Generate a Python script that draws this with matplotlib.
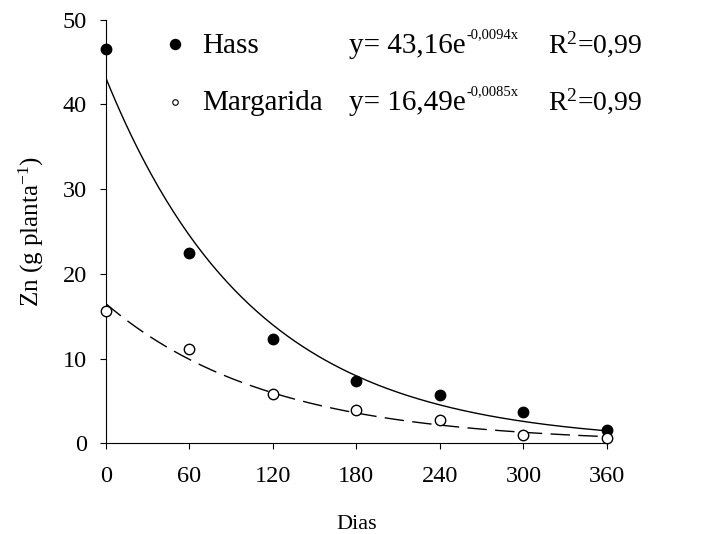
import numpy as np
import matplotlib
matplotlib.use("Agg")
import matplotlib.pyplot as plt

plt.rcParams['font.family'] = ['Liberation Serif', 'DejaVu Serif']
plt.rcParams['mathtext.fontset'] = 'custom'
plt.rcParams['mathtext.rm'] = 'Liberation Serif'
plt.rcParams['mathtext.it'] = 'Liberation Serif'

dias = [0, 60, 120, 180, 240, 300, 360]
hass = [46.6, 22.5, 12.3, 7.4, 5.7, 3.7, 1.6]
margarida = [15.6, 11.1, 5.8, 3.9, 2.7, 1.0, 0.6]

# ajustes exponenciais y = a*exp(b*x)
hass_a, hass_b = 43.16, -0.0094
marg_a, marg_b = 16.49, -0.0085

fig = plt.figure(figsize=(7.05, 5.34), dpi=100)
ax = fig.add_axes([0.150, 0.170, 0.711, 0.793])

xs = np.linspace(0, 360, 200)
ax.plot(xs, hass_a * np.exp(hass_b * xs), color='black', lw=1.0)
ax.plot(xs, marg_a * np.exp(marg_b * xs), color='black', lw=1.0, dashes=(14, 6))

ax.plot(dias, hass, 'o', color='black', ms=7.5, clip_on=False, zorder=3)
ax.plot(dias, margarida, 'o', mfc='white', mec='black', mew=1.0, ms=7.5,
        clip_on=False, zorder=3)

ax.set_xlim(0, 360)
ax.set_ylim(0, 50)
ax.set_xticks(dias)
ax.set_yticks([0, 10, 20, 30, 40, 50])
ax.spines['top'].set_visible(False)
ax.spines['right'].set_visible(False)
ax.tick_params(direction='out', length=4.5, labelsize=17.5)
ax.tick_params(axis='x', pad=12)
ax.tick_params(axis='y', pad=9)
ax.set_xlabel('Dias', fontsize=16, labelpad=20)
ax.set_ylabel('Zn (g planta$^{\\mathrm{-1}}$)', fontsize=18, labelpad=12)

# legenda manual
fs = 21
ax.plot([49.6], [47.1], 'o', color='black', ms=7.2)
ax.plot([49.6], [40.3], 'o', mfc='white', mec='black', mew=0.8, ms=4)
ax.text(69.5, 46.1, 'Hass', fontsize=fs, va='baseline')
ax.text(69.5, 39.4, 'Margarida', fontsize=fs, va='baseline')

t1 = ax.text(175, 46.1, 'y= 43,16e', fontsize=fs, va='baseline')
t2 = ax.text(175, 39.4, 'y= 16,49e', fontsize=fs, va='baseline')
ax.annotate('-0,0094x', xy=(1.0, 47.8), xycoords=(t1, 'data'),
            fontsize=10.5, va='baseline', ha='left')
ax.annotate('-0,0085x', xy=(1.0, 41.1), xycoords=(t2, 'data'),
            fontsize=10.5, va='baseline', ha='left')

ax.text(317.5, 46.1, 'R$^2$=0,99', fontsize=20, va='baseline')
ax.text(317.5, 39.4, 'R$^2$=0,99', fontsize=20, va='baseline')

fig.savefig('out.png', dpi=100)
